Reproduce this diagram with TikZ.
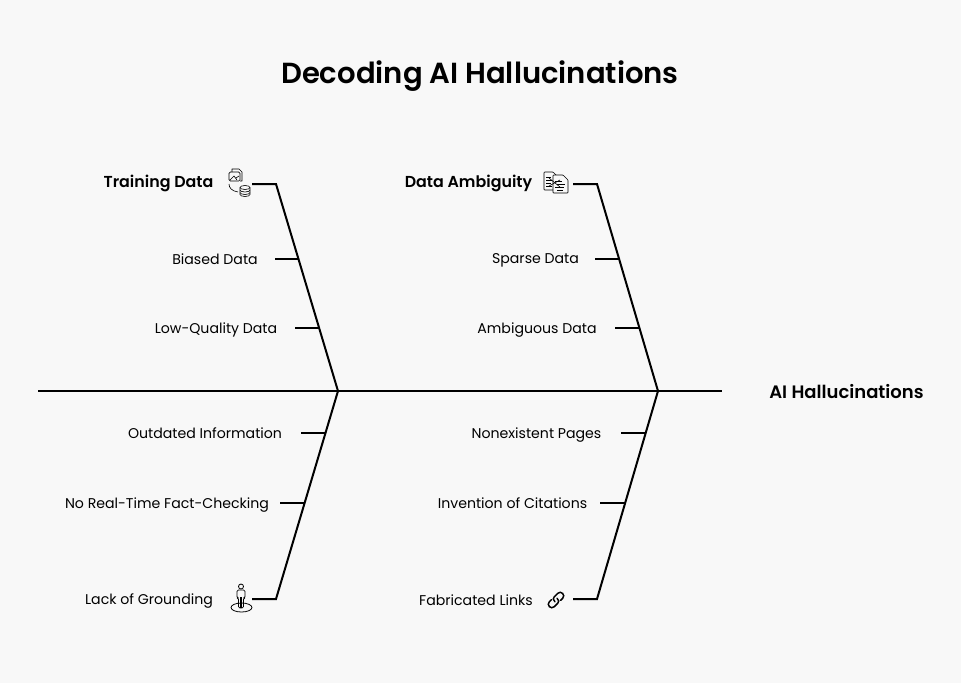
\documentclass[tikz,border=0pt]{standalone}
\usepackage{fontspec}
\setmainfont[BoldFont={Poppins SemiBold}]{Poppins}
\definecolor{paper}{HTML}{F8F8F8}
\tikzset{
  bone/.style={line width=1.5pt},
  rib/.style={line width=1.1pt},
  icon/.style={line width=0.45pt,line join=round},
  lbl/.style={font=\fontsize{10.6}{12}\selectfont,inner sep=0pt,text height=7.4pt,text depth=0pt},
  head/.style={font=\fontsize{11.9}{13}\selectfont\bfseries,inner sep=0pt,text height=8.3pt,text depth=0pt},
}
\begin{document}
\begin{tikzpicture}[x=0.75pt,y=-0.75pt]
  \fill[paper] (0,0) rectangle (961,683);
  \useasboundingbox (0,0) rectangle (961,683);
  \node[head,font=\fontsize{21.8}{25}\selectfont\bfseries,text height=15.2pt] (title) at (480,73) {Decoding AI Hallucinations};
  % spine
  \coordinate (tail) at (38,391);
  \coordinate (tip) at (722,391);
  \coordinate (jointL) at (338,391);
  \coordinate (jointR) at (658,391);
  \node[head,font=\fontsize{13.5}{14}\selectfont\bfseries,text height=9.4pt] (effect) at (846.5,392) {AI Hallucinations};
  \draw[bone] (tail) -- (tip);
  % bones
  \coordinate (upL) at (276,184);
  \coordinate (upR) at (597,184);
  \coordinate (lowL) at (276,599);
  \coordinate (lowR) at (597,599);
  \draw[bone] (jointL) -- (upL) -- +(-24,0) coordinate (upLs);
  \draw[bone] (jointR) -- (upR) -- +(-24,0) coordinate (upRs);
  \draw[bone] (jointL) -- (lowL) -- +(-24,0) coordinate (lowLs);
  \draw[bone] (jointR) -- (lowR) -- +(-24,0) coordinate (lowRs);
  % heads
  \node[head] (training) at (158.5,182) {Training Data};
  \node[head] (ambiguity) at (468.5,182) {Data Ambiguity};
  % causes
  \foreach \name/\txt/\x/\t/\y/\a/\b in {
    biased/Biased Data/215/260/259/275/299,
    lowq/Low-Quality Data/216/328.5/328/295/319,
    sparse/Sparse Data/535.5/259/259/595/619,
    ambig/Ambiguous Data/537/328.5/328/615/639,
    outdated/Outdated Information/205/434/433/301/325,
    factcheck/No Real-Time Fact-Checking/167/503.5/503/280/304,
    nonexist/Nonexistent Pages/536.5/434/433/621/646,
    citations/Invention of Citations/512.5/503.5/503/600/625}{
    \node[lbl] (\name) at (\x,\t) {\txt};
    \draw[rib] (\a,\y) coordinate (\name s) -- (\b,\y) coordinate (\name e);
  }
  \node[lbl] (grounding) at (149,599.5) {Lack of Grounding};
  \node[lbl] (links) at (476,601) {Fabricated Links};
  % icon: document and database
  \begin{scope}[icon]
    \draw (232,172) -- (232,169) -- (239,169) -- (242,172) -- (242,181) -- (240,181);
    \draw[rounded corners=1pt] (229,172) rectangle (240,181);
    \draw (230,180) -- (234,176) -- (237,180) (236,178) -- (239,176);
    \draw (229,184) .. controls (229,188) and (232,191) .. (238,192);
    \draw (245,187.5) ellipse (5 and 2);
    \draw (240,187.5) -- (240,194.5) arc (180:0:5 and 2) -- (250,187.5);
    \draw (240,190) arc (180:0:5 and 2);
    \draw (240,192.5) arc (180:0:5 and 2);
  \end{scope}
  % icon: two documents
  \begin{scope}[icon]
    \draw[rounded corners=0.5pt] (544,172) -- (553,172) -- (558,177) -- (558,190) -- (544,190) -- cycle;
    \draw[rounded corners=0.5pt,fill=paper] (553,175) -- (563,175) -- (568,180) -- (568,193) -- (553,193) -- cycle;
    \draw (546,177) -- (551,177) (546,180) -- (552,180) (546,183) -- (551,183) (546,186) -- (552,186);
    \draw (555,181) -- (562,181) (557,184) -- (565,184) (555,187) -- (564,187) (557,190) -- (563,190);
    \draw (549,178) -- (560,187) (549,186) -- (560,180);
  \end{scope}
  % icon: person on a disc
  \begin{scope}[icon,line width=0.6pt]
    \draw (241.5,607.5) ellipse (10.5 and 4.5);
    \draw (241,586.5) circle (2.5);
    \draw[rounded corners=1pt] (237,598) -- (237,590) -- (245,590) -- (245,598) -- (243.5,598) -- (243.5,608) -- (238.5,608) -- (238.5,598) -- cycle;
    \draw[line width=1pt] (241,597) -- (241,608);
  \end{scope}
  % icon: chain link
  \begin{scope}[shift={(556,600)},rotate=45,line width=1.1pt,line cap=round]
    \draw (-2,0.5) .. controls (-2,-2.5) and (-1,-3.5) .. (1,-3.5) -- (6,-3.5) .. controls (10.5,-3.5) and (10.5,3.5) .. (6,3.5) -- (3,3.5);
    \draw (2,-0.5) .. controls (2,2.5) and (1,3.5) .. (-1,3.5) -- (-6,3.5) .. controls (-10.5,3.5) and (-10.5,-3.5) .. (-6,-3.5) -- (-3,-3.5);
  \end{scope}
\end{tikzpicture}
\end{document}
